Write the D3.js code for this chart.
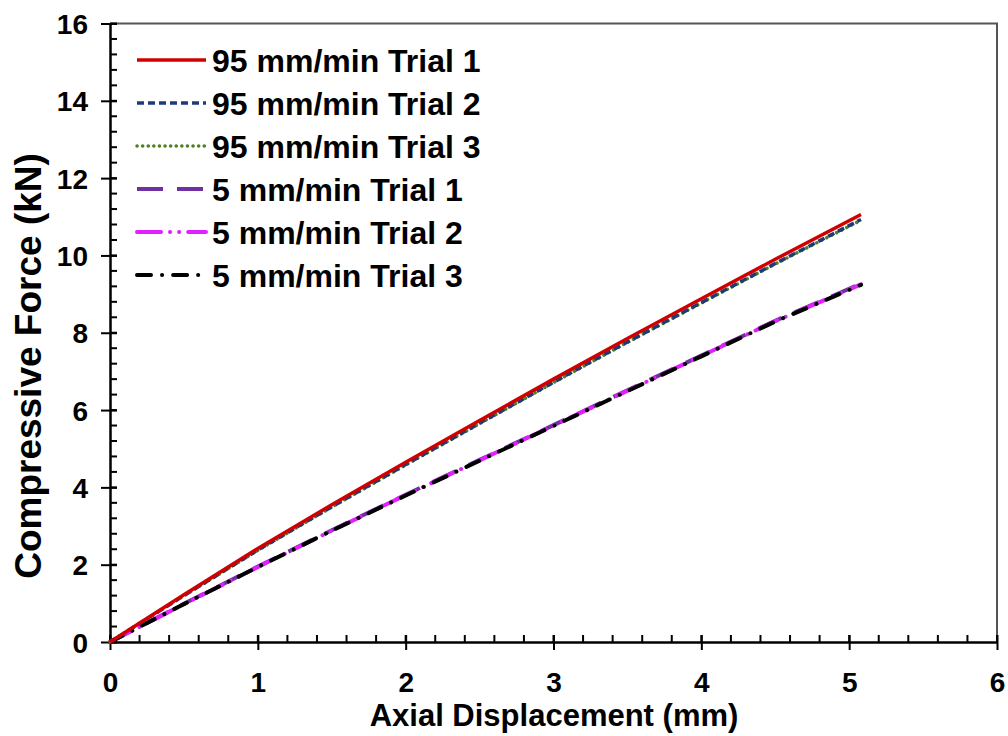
<!DOCTYPE html>
<html><head><meta charset="utf-8">
<script src="https://cdn.jsdelivr.net/npm/d3@7"></script>
<style>body{margin:0;background:#fff}svg{display:block}text{font-family:Arial,"Liberation Sans",sans-serif;font-weight:bold}</style>
</head><body>
<script>
const xValues = [0, 0.5, 1, 1.5, 2, 2.5, 3, 3.5, 4, 4.5, 5.08];
const fast1 = [0, 1.22, 2.42, 3.55, 4.65, 5.73, 6.80, 7.85, 8.88, 9.90, 11.06];
const fast2 = [0, 1.20, 2.38, 3.50, 4.59, 5.66, 6.72, 7.76, 8.78, 9.79, 10.93];
const fast3 = [0, 1.20, 2.37, 3.49, 4.58, 5.65, 6.71, 7.75, 8.77, 9.78, 10.91];
const slow1 = [0, 0.99, 1.95, 2.89, 3.81, 4.71, 5.61, 6.51, 7.41, 8.31, 9.27];
const slow2 = [0, 0.98, 1.94, 2.88, 3.80, 4.70, 5.60, 6.50, 7.40, 8.30, 9.25];
const slow3 = [0, 0.98, 1.94, 2.88, 3.79, 4.69, 5.59, 6.49, 7.39, 8.29, 9.24];
const seriesNames = ["95 mm/min Trial 1","95 mm/min Trial 2","95 mm/min Trial 3","5 mm/min Trial 1","5 mm/min Trial 2","5 mm/min Trial 3"];
const seriesValues = [fast1, fast2, fast3, slow1, slow2, slow3];
const xTicks = [0,1,2,3,4,5,6];
const yTicks = [0,2,4,6,8,10,12,14,16];
const xTitle = "Axial Displacement (mm)";
const yTitle = "Compressive Force (kN)";

const styles = [
  {color:"#D00000", dash:null, cap:"butt", w:3.5},
  {color:"#1F3A78", dash:"7,4", cap:"butt", w:3.5},
  {color:"#4E8020", dash:"0.1,5.5", cap:"round", w:3.5},
  {color:"#7030A0", dash:"26,14", cap:"butt", w:4},
  {color:"#E020FF", dash:"24,9,0.1,9,0.1,9", cap:"round", w:4},
  {color:"#000000", dash:"14,11,0.1,11", cap:"round", w:4}
];

const W = 1008, H = 736;
const svg = d3.select("body").append("svg").attr("width", W).attr("height", H);
const L = 110, R = 997, T = 23.5, B = 642;
const x = d3.scaleLinear().domain([0,6]).range([L,R]);
const y = d3.scaleLinear().domain([0,16]).range([B,T]);

// frame top/right
svg.append("path").attr("d",`M${L},${T}H${R}V${B}`).attr("fill","none").attr("stroke","#555").attr("stroke-width",2);

// minor ticks (inside)
const xMinor = d3.range(0, 6.0001, 0.2);
const yMinor = d3.range(0, 16.0001, 0.4);
svg.append("g").selectAll("line").data(xMinor).join("line")
  .attr("x1",d=>x(d)).attr("x2",d=>x(d)).attr("y1",B).attr("y2",B-7)
  .attr("stroke","#000").attr("stroke-width",2);
svg.append("g").selectAll("line").data(yMinor).join("line")
  .attr("y1",d=>y(d)).attr("y2",d=>y(d)).attr("x1",L).attr("x2",L+7)
  .attr("stroke","#000").attr("stroke-width",2);

// axes with crossing major ticks
const xAxis = svg.append("g").attr("transform",`translate(0,${B})`)
  .call(d3.axisBottom(x).tickValues(xTicks).tickSize(8).tickSizeOuter(0).tickFormat(d3.format("d")));
const yAxis = svg.append("g").attr("transform",`translate(${L},0)`)
  .call(d3.axisLeft(y).tickValues(yTicks).tickSize(9).tickSizeOuter(0).tickFormat(d3.format("d")));
[xAxis, yAxis].forEach(g=>{
  g.select(".domain").attr("stroke","#000").attr("stroke-width",2.5);
  g.selectAll(".tick line").attr("stroke","#000").attr("stroke-width",2);
  g.selectAll(".tick text").attr("fill","#000").style("font-size","28px").style("font-family","Arial, 'Liberation Sans', sans-serif").style("font-weight","bold");
});
xAxis.selectAll(".tick line").attr("y1",-7);
xAxis.selectAll(".tick text").attr("dy","0").attr("y",50);
yAxis.selectAll(".tick line").attr("x1",7);
yAxis.selectAll(".tick text").attr("x",-22).attr("dy","0.36em");

// titles
svg.append("text").attr("x",554).attr("y",726).attr("text-anchor","middle")
  .style("font-size","31px").text(xTitle);
svg.append("text").attr("transform",`translate(41,${366}) rotate(-90)`).attr("text-anchor","middle")
  .style("font-size","37px").text(yTitle);

// lines
const line = d3.line().x((d,i)=>x(xValues[i])).y(d=>y(d));
const order = [3,4,5,2,1,0];
svg.append("g").selectAll("path").data(order).join("path")
  .attr("d",i=>line(seriesValues[i]))
  .attr("fill","none")
  .attr("stroke",i=>styles[i].color)
  .attr("stroke-width",i=>styles[i].w)
  .attr("stroke-dasharray",i=>styles[i].dash)
  .attr("stroke-linecap",i=>styles[i].cap);

// legend
const legY = [60, 103, 146, 189, 232, 275];
const leg = svg.append("g");
seriesNames.forEach((n,i)=>{
  leg.append("line").attr("x1",137).attr("x2",206).attr("y1",legY[i]).attr("y2",legY[i])
    .attr("stroke",styles[i].color).attr("stroke-width",styles[i].w)
    .attr("stroke-dasharray",styles[i].dash).attr("stroke-linecap",styles[i].cap);
  leg.append("text").attr("x",212).attr("y",legY[i]).attr("dy","0.36em")
    .style("font-size","32px").attr("fill","#000").text(n);
});
</script>
</body></html>
